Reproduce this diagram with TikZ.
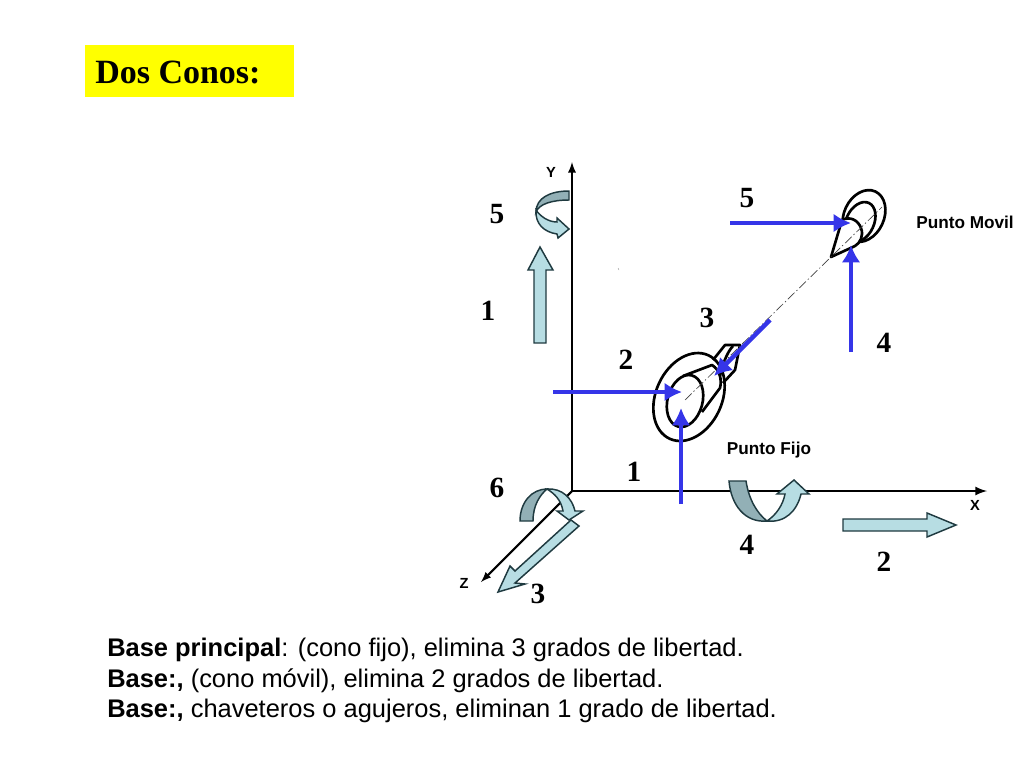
\documentclass[tikz,border=0pt]{standalone}
\usepackage{fontspec}
\setmainfont{Liberation Serif}
\newfontfamily\arialfont{Liberation Sans}
\definecolor{titleyellow}{RGB}{255,255,0}
\definecolor{blockfill}{HTML}{B7DDE3}
\definecolor{blockdark}{HTML}{92B0B6}
\definecolor{blockline}{HTML}{1F3A40}
\definecolor{forceblue}{HTML}{3535E8}
\tikzset{
  numlabel/.style={font=\bfseries\fontsize{22}{26}\selectfont},
  axislabel/.style={font=\arialfont\bfseries\fontsize{11}{13}\selectfont},
  smalllabel/.style={font=\arialfont\bfseries\fontsize{12.9}{15}\selectfont},
  baseline text/.style={anchor=base west,font=\arialfont\fontsize{19.1}{23}\selectfont},
  block/.style={fill=blockfill,draw=blockline,line width=1.1pt,line join=miter},
  blockshade/.style={fill=blockdark,draw=blockline,line width=1.1pt},
  force/.style={draw=forceblue,line width=3.3pt,-{Latex[length=13pt,width=14pt]}},
  cone/.style={line width=2pt,line join=round},
}
\usetikzlibrary{arrows.meta}
\begin{document}
\begin{tikzpicture}[>=latex, x=.75pt, y=-.75pt]
\useasboundingbox (0,0) rectangle (1024,768);
% title
\fill [titleyellow] (85,45) rectangle (294,97);
\node [anchor=base west, inner sep=0pt, font=\bfseries\fontsize{25.5}{30}\selectfont] (title) at (95,83) {Dos Conos:};
% axes
\draw [->, line width=1.7pt] (572,491)--(572,162);
\draw [->, line width=2pt] (572,491)--(987,491);
\draw [->, line width=1.6pt] (572,491)--(481,582);
\node [axislabel] (ylabel) at (551,172) {Y};
\node [axislabel] (xlabel) at (975,505) {X};
\node [axislabel] (zlabel) at (464,583) {Z};
% block arrows
\draw [block] (534,343)--(534,270)--(528,270)--(540,247)--(553,270)--(546,270)--(546,343)--cycle;
\draw [block] (843,519)--(927,519)--(927,513)--(956,525)--(927,537)--(927,531)--(843,531)--cycle;
\draw [block] (571,520)--(579,526)--(515,583)--(525,584)--(498,592)--(510,566)--(515,571)--cycle;
% rotation about Y
\draw [block] (536,210) .. controls (540,216) and (548,222) .. (557,222)--(557,218)--(569,229)--(558,238)--(557,234)
  .. controls (544,232) and (535,224) .. (536,210)--cycle;
\draw [blockshade] (569,191) .. controls (550,191) and (536,198) .. (536,212) .. controls (539,204) and (552,200) .. (569,200)--cycle;
% rotation about Z
\draw [blockshade] (520,521) .. controls (520,502) and (532,489) .. (547,489) .. controls (540,495) and (533,505) .. (533,521)--cycle;
\draw [block] (547,489) .. controls (562,488) and (572,498) .. (575,511)--(583,511)--(569,520)--(557,511)--(563,511)
  .. controls (561,500) and (555,494) .. (547,489)--cycle;
% rotation about X
\draw [blockshade] (729,481)--(746,481) .. controls (749,500) and (757,513) .. (767,521) .. controls (745,523) and (731,505) .. (729,481)--cycle;
\draw [block] (767,521) .. controls (776,515) and (783,505) .. (785,494)--(777,494)--(794,480)--(809,494)--(801,494)
  .. controls (797,511) and (785,523) .. (767,521)--cycle;
% fixed cone
\draw [cone] (689,397) [rotate around={-25:(689,397)}] ellipse (33 and 46);
\draw [cone] (733,346) .. controls (727,352) and (722,366) .. (720,376);
\draw [cone] (713,360)--(725,345)--(740,345)--(735,370)--(723,383);
\draw [cone] (683,376)--(712,365) .. controls (720,370) and (722,380) .. (720,388)--(702,412);
\draw [cone, fill=white] (685,401) [rotate around={-15:(685,401)}] ellipse (17.5 and 26.5);
% moving cone
\draw [cone] (864,216) [rotate around={-25:(864,216)}] ellipse (20 and 27);
\draw [cone] (860,222) [rotate around={-25:(860,222)}] ellipse (14 and 21);
\draw [cone, fill=white] (831,257)--(842,220) .. controls (850,216) and (858,220) .. (861,228) .. controls (864,236) and (860,243) .. (855,246)--cycle;
% centre line
\draw [line width=.5pt, dash pattern=on 7pt off 2pt on 1pt off 2pt, black!75] (685,400)--(882,207);
% forces
\draw [force] (730,223)--(851,223);
\draw [force] (851,352)--(851,245);
\draw [force] (770,320)--(714,376);
\draw [force] (553,392)--(682,392);
\draw [force] (681,504)--(681,408);
% stray mark
\draw [line width=.3pt, black!50] (618,268)--(619,270);
% numbers
\node [numlabel] (fiveb) at (747,198) {5};
\node [numlabel] (fivea) at (497,214) {5};
\node [numlabel] (onea) at (488,311) {1};
\node [numlabel] (threeb) at (707,318) {3};
\node [numlabel] (fourb) at (884,343) {4};
\node [numlabel] (twob) at (626,360) {2};
\node [numlabel] (oneb) at (634,472) {1};
\node [numlabel] (six) at (497,488) {6};
\node [numlabel] (foura) at (747,545) {4};
\node [numlabel] (twoa) at (884,562) {2};
\node [numlabel] (threea) at (538,594) {3};
\node [smalllabel] (movil) at (965,222) {Punto Movil};
\node [smalllabel] (fijo) at (769,450) {Punto Fijo};
% text
\node [baseline text, inner sep=0pt] (lineone) at (107,656) {\textbf{Base principal}: (cono fijo), elimina 3 grados de libertad.};
\node [baseline text, inner sep=0pt] (linetwo) at (107,687) {\textbf{Base:,} (cono móvil), elimina 2 grados de libertad.};
\node [baseline text, inner sep=0pt] (linethree) at (107,717) {\textbf{Base:,} chaveteros o agujeros, eliminan 1 grado de libertad.};
\end{tikzpicture}
\end{document}
